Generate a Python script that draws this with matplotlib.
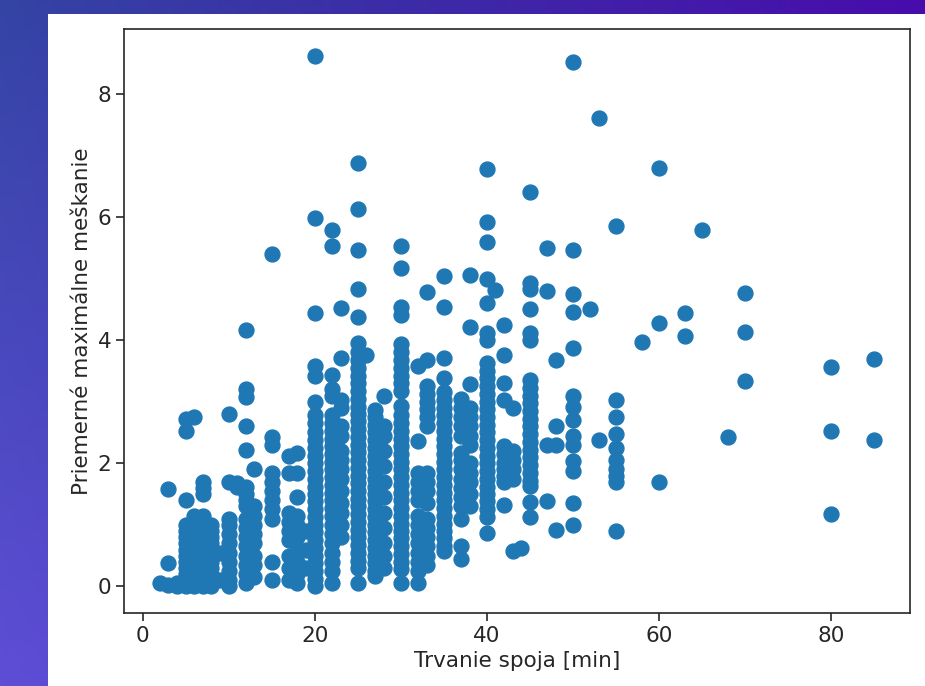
import numpy as np
import matplotlib
matplotlib.use("Agg")
import matplotlib.pyplot as plt
from matplotlib.patches import Rectangle

# ---- data: trip duration [min] and mean maximal delay values per duration ----
durations = [2, 3, 4, 5, 6, 7, 8, 9, 10, 11, 12, 13, 15, 17, 18, 19, 20, 22, 23,
             25, 26, 27, 28, 30, 32, 33, 35, 37, 38, 40, 41, 42, 43, 44, 45, 47,
             48, 50, 52, 53, 55, 58, 60, 63, 65, 68, 70, 80, 85]

delays = [
    [0.06],                                                           # 2
    [1.58, 0.38, 0.02],                                               # 3
    [0.05, 0.0],                                                      # 4
    [2.72, 2.52, 1.41, 1.0, 0.9, 0.8, 0.7, 0.6, 0.5, 0.4, 0.3, 0.2, 0.1, 0.0],  # 5
    [2.75, 1.14, 1.05, 0.95, 0.85, 0.7, 0.55, 0.4, 0.3, 0.15, 0.05, 0.0],      # 6
    [1.7, 1.6, 1.5, 1.14, 1.0, 0.9, 0.75, 0.6, 0.5, 0.4, 0.25, 0.1, 0.0],      # 7
    [1.0, 0.9, 0.8, 0.7, 0.6, 0.5, 0.4, 0.3, 0.2, 0.1, 0.0],          # 8
    [0.55, 0.1],                                                      # 9
    [2.8, 1.7, 1.1, 1.0, 0.85, 0.7, 0.55, 0.4, 0.25, 0.1, 0.0],       # 10
    [1.68, 1.62],                                                     # 11
    [4.17, 3.2, 3.08, 2.6, 2.22, 1.62, 1.5, 1.4, 1.3, 1.1, 0.95, 0.8, 0.65,
     0.5, 0.35, 0.2, 0.05],                                           # 12
    [1.9, 1.3, 1.15, 1.0, 0.85, 0.7, 0.5, 0.35, 0.15],                # 13
    [5.4, 2.42, 2.3, 1.85, 1.7, 1.55, 1.4, 1.25, 1.1, 0.4, 0.1],      # 15
    [2.11, 1.85, 1.2, 1.05, 0.9, 0.75, 0.5, 0.3, 0.1],                # 17
    [2.17, 1.85, 1.45, 1.15, 1.0, 0.8, 0.6, 0.4, 0.2, 0.05],          # 18
    [0.9, 0.6, 0.3],                                                  # 19
    [8.62, 5.98, 4.44, 3.58, 3.41, 3.0, 2.78, 2.65, 2.5, 2.38, 2.25, 2.12,
     2.0, 1.88, 1.75, 1.62, 1.5, 1.38, 1.25, 1.12, 1.0, 0.88, 0.75, 0.62,
     0.5, 0.38, 0.25, 0.12, 0.0],                                     # 20
    [5.79, 5.53, 3.44, 3.2, 3.1, 2.78, 2.65, 2.52, 2.4, 2.28, 2.15, 2.02,
     1.9, 1.78, 1.65, 1.52, 1.4, 1.28, 1.15, 1.0, 0.85, 0.7, 0.55, 0.4,
     0.25, 0.06],                                                     # 22
    [4.52, 3.71, 3.03, 2.9, 2.6, 2.45, 2.2, 2.05, 1.9, 1.75, 1.55, 1.35,
     1.2, 1.0, 0.8],                                                  # 23
    [6.88, 6.13, 5.47, 4.83, 4.37, 3.96, 3.8, 3.68, 3.55, 3.42, 3.3, 3.18,
     3.05, 2.92, 2.8, 2.68, 2.55, 2.42, 2.3, 2.18, 2.05, 1.92, 1.8, 1.68,
     1.55, 1.42, 1.3, 1.18, 1.05, 0.92, 0.8, 0.68, 0.55, 0.42, 0.3, 0.06],  # 25
    [3.75],                                                           # 26
    [2.87, 2.75, 2.62, 2.5, 2.38, 2.25, 2.12, 2.0, 1.88, 1.75, 1.62, 1.5,
     1.38, 1.25, 1.12, 1.0, 0.88, 0.75, 0.62, 0.5, 0.38, 0.25, 0.17],  # 27
    [3.09, 2.6, 2.45, 2.2, 1.95, 1.7, 1.45, 1.2, 0.95, 0.7, 0.5, 0.3],  # 28
    [5.52, 5.17, 4.53, 4.4, 3.93, 3.8, 3.68, 3.55, 3.42, 3.3, 3.17, 2.93,
     2.78, 2.65, 2.52, 2.4, 2.28, 2.15, 2.02, 1.9, 1.78, 1.65, 1.52, 1.4,
     1.28, 1.15, 1.02, 0.9, 0.78, 0.65, 0.52, 0.4, 0.28, 0.06],       # 30
    [3.58, 2.36, 1.85, 1.7, 1.55, 1.4, 1.15, 1.0, 0.85, 0.7, 0.55, 0.4,
     0.25, 0.06],                                                     # 32
    [4.78, 3.68, 3.25, 3.12, 3.0, 2.88, 2.75, 2.6, 1.85, 1.7, 1.55, 1.36,
     1.1, 0.95, 0.8, 0.65, 0.5, 0.35],                                # 33
    [5.04, 4.53, 3.71, 3.39, 3.15, 3.02, 2.9, 2.78, 2.65, 2.52, 2.4, 2.28,
     2.15, 2.02, 1.9, 1.78, 1.65, 1.52, 1.4, 1.28, 1.15, 1.02, 0.9, 0.78,
     0.65, 0.57],                                                     # 35
    [3.05, 2.9, 2.75, 2.6, 2.45, 2.17, 2.05, 1.9, 1.75, 1.6, 1.45, 1.3,
     1.09, 0.65, 0.44],                                               # 37
    [5.06, 4.21, 3.28, 2.9, 2.75, 2.6, 2.45, 2.3, 2.0, 1.85, 1.7, 1.5, 1.3],  # 38
    [6.77, 5.91, 5.6, 5.0, 4.6, 4.12, 4.0, 3.63, 3.5, 3.38, 3.25, 3.12,
     3.0, 2.88, 2.75, 2.62, 2.5, 2.38, 2.25, 2.12, 2.0, 1.88, 1.75, 1.62,
     1.5, 1.38, 1.25, 1.12, 0.86],                                    # 40
    [4.81],                                                           # 41
    [4.24, 3.76, 3.3, 3.03, 2.28, 2.15, 2.0, 1.9, 1.8, 1.69, 1.33],   # 42
    [2.9, 2.2, 2.05, 1.9, 1.75, 0.57],                                # 43
    [0.63],                                                           # 44
    [6.4, 4.93, 4.83, 4.5, 4.12, 4.0, 3.36, 3.22, 3.1, 2.98, 2.85, 2.72,
     2.6, 2.48, 2.35, 2.22, 2.1, 1.98, 1.85, 1.72, 1.63, 1.37, 1.12],  # 45
    [5.5, 4.8, 2.3, 1.38],                                            # 47
    [3.68, 2.6, 2.3, 0.92],                                           # 48
    [8.52, 5.47, 4.75, 4.45, 3.87, 3.09, 2.92, 2.71, 2.44, 2.3, 2.03, 1.87,
     1.36, 1.0],                                                      # 50
    [4.5],                                                            # 52
    [7.6, 2.37],                                                      # 53
    [5.85, 3.03, 2.75, 2.48, 2.24, 2.05, 1.9, 1.8, 1.7, 0.9],         # 55
    [3.97],                                                           # 58
    [6.8, 4.28, 1.7],                                                 # 60
    [4.44, 4.06],                                                     # 63
    [5.78],                                                           # 65
    [2.42],                                                           # 68
    [4.77, 4.13, 3.34],                                               # 70
    [3.57, 2.52, 1.18],                                               # 80
    [3.69, 2.37],                                                     # 85
]

x_label = "Trvanie spoja [min]"
y_label = "Priemerné maximálne meškanie"

x_vals = []
y_vals = []
for d, ys in zip(durations, delays):
    for v in ys:
        x_vals.append(d)
        y_vals.append(v)

W, H = 925, 686
fig = plt.figure(figsize=(W / 100, H / 100), dpi=100)

# slide-like gradient background
bg = fig.add_axes([0, 0, 1, 1], zorder=-10)
bg.set_axis_off()
tl = np.array([52, 68, 164]) / 255
tr = np.array([72, 12, 172]) / 255
bl = np.array([94, 78, 214]) / 255
br = np.array([70, 40, 190]) / 255
u = np.linspace(0, 1, 200)[None, :, None]
v = np.linspace(0, 1, 150)[:, None, None]
grad = (1 - v) * ((1 - u) * tl + u * tr) + v * ((1 - u) * bl + u * br)
bg.imshow(grad, aspect="auto", extent=[0, 1, 0, 1], origin="upper")
bg.set_xlim(0, 1)
bg.set_ylim(0, 1)

# white figure card
fig.patches.append(Rectangle((48 / W, 0), 1 - 48 / W, (H - 14) / H,
                             transform=fig.transFigure, facecolor="white",
                             edgecolor="none", zorder=-5))

ax = fig.add_axes([124 / W, (H - 613) / H, (910 - 124) / W, (613 - 29) / H])
ax.scatter(x_vals, y_vals, s=115, color="#1f77b4")
ax.set_xlabel(x_label, fontsize=15.5, color="#262626")
ax.set_ylabel(y_label, fontsize=15.5, color="#262626")
ax.tick_params(labelsize=15.5, length=5.5, width=1.2, colors="#262626")
for sp in ax.spines.values():
    sp.set_linewidth(1.2)
    sp.set_color("#262626")
ax.set_xticks([0, 20, 40, 60, 80])
ax.set_yticks([0, 2, 4, 6, 8])

fig.savefig("out.png", dpi=100)
